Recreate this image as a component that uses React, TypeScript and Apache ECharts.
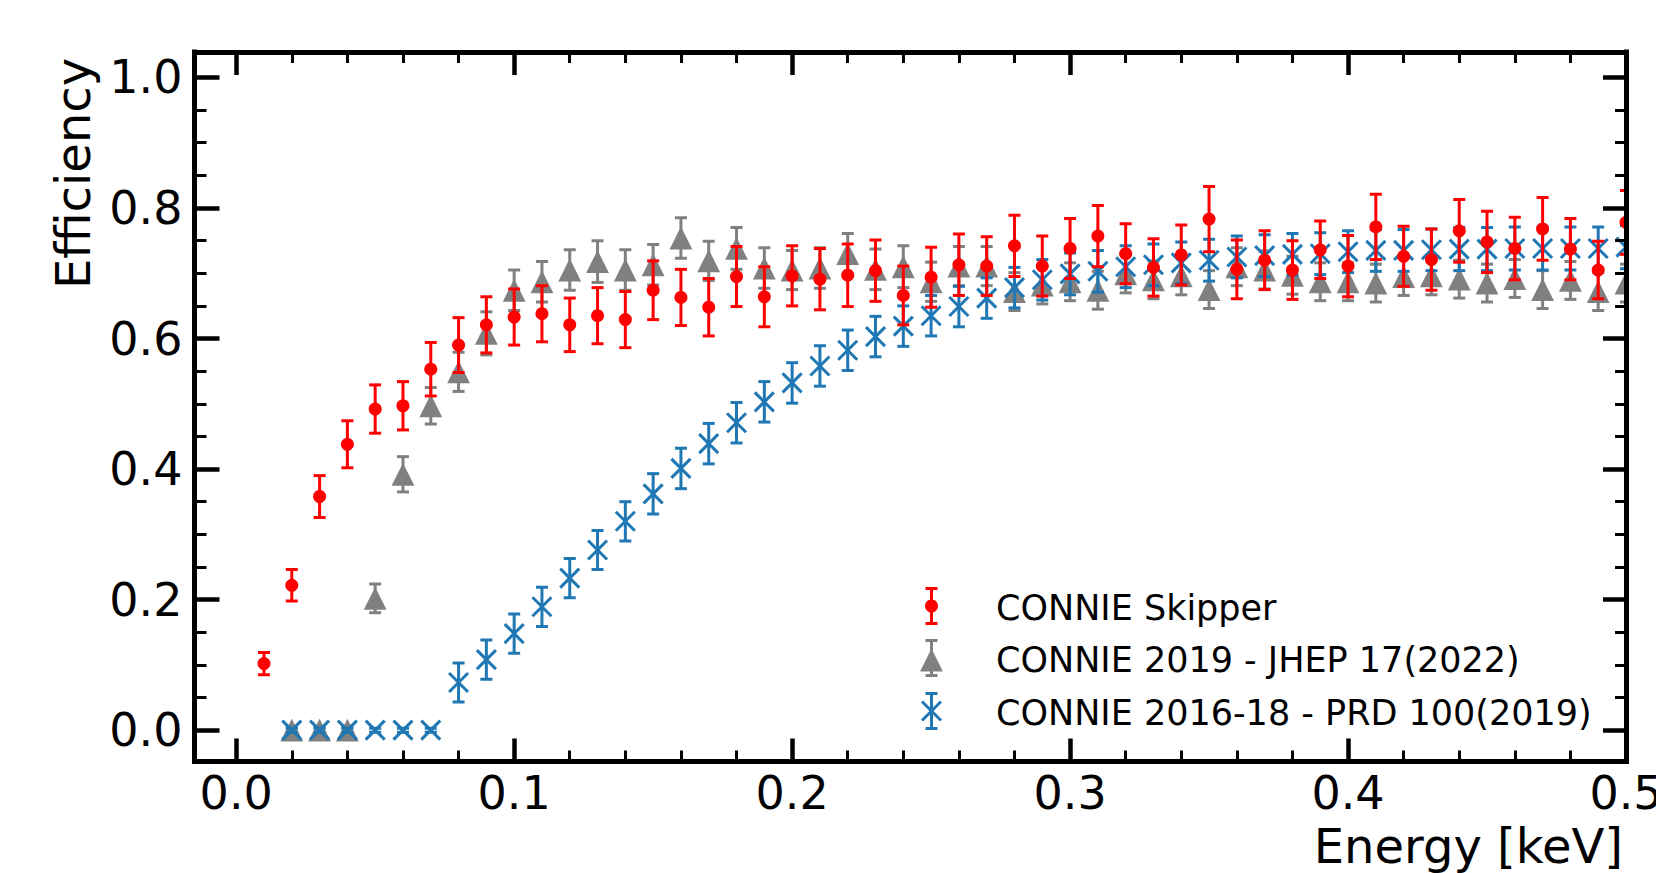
import React, { useEffect, useRef } from "react";
import * as echarts from "echarts";

// ---------- data ----------
const energySkipper = [
  0.01, 0.02, 0.03, 0.04, 0.05, 0.06, 0.07, 0.08, 0.09, 0.1,
  0.11, 0.12, 0.13, 0.14, 0.15, 0.16, 0.17, 0.18, 0.19, 0.2,
  0.21, 0.22, 0.23, 0.24, 0.25, 0.26, 0.27, 0.28, 0.29, 0.3,
  0.31, 0.32, 0.33, 0.34, 0.35, 0.36, 0.37, 0.38, 0.39, 0.4,
  0.41, 0.42, 0.43, 0.44, 0.45, 0.46, 0.47, 0.48, 0.49, 0.5,
];
const skipperEff = [
  0.102, 0.222, 0.358, 0.438, 0.492, 0.497, 0.553, 0.59, 0.621, 0.633,
  0.638, 0.621, 0.635, 0.629, 0.674, 0.663, 0.648, 0.695, 0.664, 0.696,
  0.691, 0.697, 0.704, 0.666, 0.694, 0.713, 0.711, 0.742, 0.711, 0.738,
  0.757, 0.73, 0.709, 0.728, 0.783, 0.706, 0.72, 0.705, 0.736, 0.711,
  0.771, 0.726, 0.721, 0.765, 0.748, 0.738, 0.768, 0.737, 0.705, 0.778,
];
const skipperErr = [
  0.017, 0.024, 0.032, 0.036, 0.037, 0.037, 0.041, 0.042, 0.043, 0.043,
  0.043, 0.041, 0.043, 0.043, 0.045, 0.043, 0.044, 0.046, 0.046, 0.046,
  0.047, 0.048, 0.047, 0.045, 0.046, 0.047, 0.045, 0.047, 0.046, 0.046,
  0.047, 0.046, 0.044, 0.046, 0.05, 0.045, 0.045, 0.045, 0.044, 0.047,
  0.05, 0.046, 0.047, 0.048, 0.047, 0.048, 0.048, 0.047, 0.044, 0.049,
];

const energyOld = [
  0.02, 0.03, 0.04, 0.05, 0.06, 0.07, 0.08, 0.09, 0.1,
  0.11, 0.12, 0.13, 0.14, 0.15, 0.16, 0.17, 0.18, 0.19, 0.2,
  0.21, 0.22, 0.23, 0.24, 0.25, 0.26, 0.27, 0.28, 0.29, 0.3,
  0.31, 0.32, 0.33, 0.34, 0.35, 0.36, 0.37, 0.38, 0.39, 0.4,
  0.41, 0.42, 0.43, 0.44, 0.45, 0.46, 0.47, 0.48, 0.49, 0.5,
];
const eff2019 = [
  0.0, 0.0, 0.0, 0.202, 0.392, 0.497, 0.549, 0.608, 0.674,
  0.687, 0.705, 0.718, 0.705, 0.713, 0.754, 0.719, 0.738, 0.708, 0.705,
  0.708, 0.73, 0.706, 0.71, 0.687, 0.711, 0.711, 0.672, 0.682, 0.687,
  0.674, 0.699, 0.69, 0.696, 0.675, 0.71, 0.705, 0.697, 0.687, 0.687,
  0.685, 0.695, 0.696, 0.691, 0.685, 0.692, 0.675, 0.689, 0.672, 0.685,
];
const err2019 = [
  0.004, 0.004, 0.004, 0.022, 0.027, 0.028, 0.03, 0.033, 0.031,
  0.031, 0.031, 0.032, 0.031, 0.031, 0.031, 0.03, 0.032, 0.031, 0.03,
  0.031, 0.031, 0.031, 0.032, 0.03, 0.03, 0.03, 0.029, 0.029, 0.029,
  0.029, 0.029, 0.029, 0.029, 0.029, 0.029, 0.029, 0.029, 0.029, 0.029,
  0.029, 0.029, 0.029, 0.029, 0.029, 0.029, 0.029, 0.029, 0.029, 0.029,
];
const eff2016 = [
  0.0, 0.0, 0.0, 0.0, 0.0, 0.0, 0.073, 0.108, 0.148,
  0.189, 0.233, 0.276, 0.32, 0.362, 0.401, 0.439, 0.471, 0.503, 0.532,
  0.558, 0.582, 0.603, 0.619, 0.635, 0.649, 0.662, 0.678, 0.69, 0.699,
  0.703, 0.71, 0.713, 0.716, 0.72, 0.725, 0.727, 0.729, 0.73, 0.733,
  0.735, 0.735, 0.736, 0.737, 0.737, 0.738, 0.738, 0.738, 0.738, 0.74,
];
const err2016 = [
  0.003, 0.003, 0.003, 0.003, 0.003, 0.003, 0.03, 0.03, 0.03,
  0.03, 0.03, 0.03, 0.03, 0.031, 0.031, 0.031, 0.031, 0.031, 0.031,
  0.031, 0.031, 0.031, 0.031, 0.031, 0.031, 0.031, 0.031, 0.031, 0.032,
  0.032, 0.032, 0.032, 0.032, 0.032, 0.032, 0.032, 0.032, 0.032, 0.032,
  0.032, 0.032, 0.032, 0.033, 0.033, 0.033, 0.033, 0.033, 0.033, 0.033,
];

const seriesNames = [
  "CONNIE Skipper",
  "CONNIE 2019 - JHEP 17(2022)",
  "CONNIE 2016-18 - PRD 100(2019)",
];

const xMajorTicks = [0, 0.1, 0.2, 0.3, 0.4, 0.5];
const xMinorTicks = [
  0.02, 0.04, 0.06, 0.08, 0.12, 0.14, 0.16, 0.18, 0.22, 0.24, 0.26, 0.28,
  0.32, 0.34, 0.36, 0.38, 0.42, 0.44, 0.46, 0.48,
];
const yMajorTicks = [0, 0.2, 0.4, 0.6, 0.8, 1.0];
const yMinorTicks = [
  0.05, 0.1, 0.15, 0.25, 0.3, 0.35, 0.45, 0.5, 0.55, 0.65, 0.7, 0.75, 0.85,
  0.9, 0.95,
];

const xName = "Energy [keV]";
const yName = "Efficiency";

// ---------- styling ----------
const RED = "#ff0000";
const GRAY = "#808080";
const BLUE = "#1f77b4";
const FONT = "DejaVu Sans";
const CAP = 6;
const LW = 3;

type Kind = "dot" | "tri" | "cross";

function markerShapes(kind: Kind, cx: number, cy: number, color: string): any[] {
  if (kind === "dot") {
    return [{ type: "circle", shape: { cx, cy, r: 6.5 }, style: { fill: color } }];
  }
  if (kind === "tri") {
    const h = 11.4;
    return [
      {
        type: "polygon",
        shape: { points: [[cx, cy - h], [cx - h, cy + h], [cx + h, cy + h]] },
        style: { fill: color },
      },
    ];
  }
  const s = 9.5;
  return [
    { type: "line", shape: { x1: cx - s, y1: cy - s, x2: cx + s, y2: cy + s }, style: { stroke: color, lineWidth: LW } },
    { type: "line", shape: { x1: cx - s, y1: cy + s, x2: cx + s, y2: cy - s }, style: { stroke: color, lineWidth: LW } },
  ];
}

function errShapes(cx: number, yLo: number, yHi: number, color: string): any[] {
  const st = { stroke: color, lineWidth: LW };
  return [
    { type: "line", shape: { x1: cx, y1: yLo, x2: cx, y2: yHi }, style: st },
    { type: "line", shape: { x1: cx - CAP, y1: yLo, x2: cx + CAP, y2: yLo }, style: st },
    { type: "line", shape: { x1: cx - CAP, y1: yHi, x2: cx + CAP, y2: yHi }, style: st },
  ];
}

function makeRender(kind: Kind, color: string) {
  return (_params: any, api: any) => {
    const x = api.value(0);
    const y = api.value(1);
    const e = api.value(2);
    const c = api.coord([x, y]);
    const lo = api.coord([x, y - e]);
    const hi = api.coord([x, y + e]);
    return {
      type: "group",
      children: [...errShapes(c[0], lo[1], hi[1], color), ...markerShapes(kind, c[0], c[1], color)],
    };
  };
}

function buildData(xs: number[], ys: number[], es: number[]) {
  return xs.map((x, i) => [x, ys[i], es[i]]);
}

function legendItem(kind: Kind, color: string, name: string, cy: number) {
  const cx = 931.5;
  const half = 17.5;
  return {
    type: "group",
    children: [
      ...errShapes(cx, cy + half, cy - half, color),
      ...markerShapes(kind, cx, kind === "tri" ? cy + 2 : cy, color),
      {
        type: "text",
        x: 996,
        y: cy + 1.5,
        style: { text: name, fill: "#000", font: `35px '${FONT}'`, textAlign: "left", textVerticalAlign: "middle" },
      },
    ],
  };
}

const fmt = (v: number) => v.toFixed(1);

export default function App() {
  const ref = useRef<HTMLDivElement>(null);

  useEffect(() => {
    if (!ref.current) return;
    const chart = echarts.init(ref.current, undefined, { renderer: "svg" });

    const gridPos = {
      left: 194.5,
      right: 30,
      top: 52,
      bottom: 111.5,
      containLabel: false,
      outerBoundsMode: "none",
    };
    const xBase = { type: "value", min: -0.015, max: 0.5, z: 10, splitLine: { show: false } };
    const yBase = { type: "value", min: -0.048, max: 1.039, z: 10, splitLine: { show: false } };
    const axisLine = { show: true, onZero: false, lineStyle: { color: "#000", width: 5, cap: "square" } };
    const noLine = { show: false, onZero: false };
    const majorTick = (customValues: number[], length: number) => ({
      show: true,
      inside: true,
      length,
      lineStyle: { color: "#000", width: 4.5 },
      customValues,
    });
    const minorTick = (customValues: number[], length: number) => ({
      show: true,
      inside: true,
      length,
      lineStyle: { color: "#000", width: 3 },
      customValues,
    });

    const option: any = {
      animation: false,
      backgroundColor: "#fff",
      grid: [{ ...gridPos }, { ...gridPos }],
      xAxis: [
        {
          ...xBase,
          gridIndex: 0,
          position: "bottom",
          axisLine,
          axisTick: majorTick(xMajorTicks, 23),
          axisLabel: {
            show: true,
            customValues: xMajorTicks,
            formatter: fmt,
            color: "#000",
            fontFamily: FONT,
            fontSize: 46,
            margin: 8,
          },
        },
        {
          ...xBase,
          gridIndex: 0,
          position: "top",
          axisLine,
          axisTick: majorTick(xMajorTicks, 23),
          axisLabel: { show: false, customValues: xMajorTicks },
        },
        {
          ...xBase,
          gridIndex: 1,
          position: "bottom",
          axisLine: noLine,
          axisTick: minorTick(xMinorTicks, 11),
          axisLabel: { show: false, customValues: xMinorTicks },
        },
        {
          ...xBase,
          gridIndex: 1,
          position: "top",
          axisLine: noLine,
          axisTick: minorTick(xMinorTicks, 11),
          axisLabel: { show: false, customValues: xMinorTicks },
        },
      ],
      yAxis: [
        {
          ...yBase,
          gridIndex: 0,
          position: "left",
          axisLine,
          axisTick: majorTick(yMajorTicks, 25),
          axisLabel: {
            show: true,
            customValues: yMajorTicks,
            formatter: fmt,
            color: "#000",
            fontFamily: FONT,
            fontSize: 46,
            margin: 12,
          },
        },
        {
          ...yBase,
          gridIndex: 0,
          position: "right",
          axisLine,
          axisTick: majorTick(yMajorTicks, 23),
          axisLabel: { show: false, customValues: yMajorTicks },
        },
        {
          ...yBase,
          gridIndex: 1,
          position: "left",
          axisLine: noLine,
          axisTick: minorTick(yMinorTicks, 12),
          axisLabel: { show: false, customValues: yMinorTicks },
        },
        {
          ...yBase,
          gridIndex: 1,
          position: "right",
          axisLine: noLine,
          axisTick: minorTick(yMinorTicks, 11),
          axisLabel: { show: false, customValues: yMinorTicks },
        },
      ],
      series: [
        {
          type: "custom",
          name: seriesNames[1],
          xAxisIndex: 0,
          yAxisIndex: 0,
          clip: true,
          renderItem: makeRender("tri", GRAY),
          data: buildData(energyOld, eff2019, err2019),
        },
        {
          type: "custom",
          name: seriesNames[2],
          xAxisIndex: 0,
          yAxisIndex: 0,
          clip: true,
          renderItem: makeRender("cross", BLUE),
          data: buildData(energyOld, eff2016, err2016),
        },
        {
          type: "custom",
          name: seriesNames[0],
          xAxisIndex: 0,
          yAxisIndex: 0,
          clip: true,
          renderItem: makeRender("dot", RED),
          data: buildData(energySkipper, skipperEff, skipperErr),
        },
      ],
      graphic: [
        legendItem("dot", RED, seriesNames[0], 606),
        legendItem("tri", GRAY, seriesNames[1], 658),
        legendItem("cross", BLUE, seriesNames[2], 711),
        {
          type: "text",
          x: 73,
          y: 173.5,
          rotation: Math.PI / 2,
          style: { text: yName, fill: "#000", font: `48px '${FONT}'`, textAlign: "center", textVerticalAlign: "middle" },
        },
        {
          type: "text",
          x: 1623,
          y: 846,
          style: { text: xName, fill: "#000", font: `48px '${FONT}'`, textAlign: "right", textVerticalAlign: "middle" },
        },
      ],
    };

    chart.setOption(option);
    return () => chart.dispose();
  }, []);

  return (
    <div
      ref={ref}
      style={{ position: "fixed", left: 0, top: 0, width: 1656, height: 873, background: "#fff" }}
    />
  );
}
